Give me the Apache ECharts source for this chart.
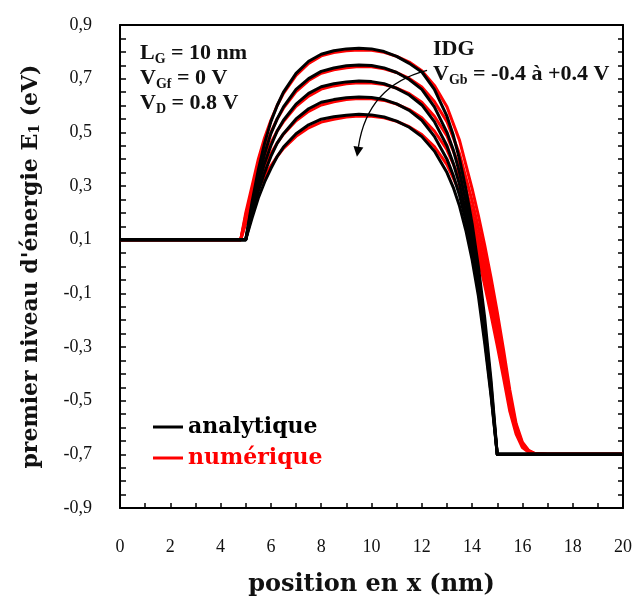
<!DOCTYPE html>
<html>
<head>
<meta charset="utf-8">
<script src="https://cdn.jsdelivr.net/npm/echarts@6/dist/echarts.min.js"></script>
<style>
html,body{margin:0;padding:0;background:#fff;}
#main{width:637px;height:601px;}
</style>
</head>
<body>
<div id="main"></div>
<script>
// ---- data ----
var xBlack = [0, 5, 5.25, 5.5, 5.75, 6, 6.25, 6.5, 7, 7.5, 8, 8.5, 9, 9.5, 10, 10.5, 11, 11.5, 12, 12.5, 13, 13.25, 13.5, 13.75, 14, 14.25, 14.5, 14.75, 15, 20];
var black1 = [0.1, 0.1, 0.24, 0.36, 0.46, 0.54, 0.60, 0.65, 0.72, 0.765, 0.791, 0.804, 0.811, 0.813, 0.811, 0.801, 0.783, 0.757, 0.725, 0.66, 0.56, 0.49, 0.40, 0.29, 0.16, 0.0, -0.19, -0.42, -0.70, -0.70];
var black2 = [0.1, 0.1, 0.225, 0.33, 0.42, 0.495, 0.55, 0.595, 0.66, 0.70, 0.727, 0.740, 0.748, 0.751, 0.749, 0.740, 0.723, 0.697, 0.66, 0.595, 0.50, 0.435, 0.35, 0.245, 0.12, -0.03, -0.22, -0.44, -0.70, -0.70];
var black3 = [0.1, 0.1, 0.21, 0.305, 0.385, 0.45, 0.505, 0.545, 0.605, 0.645, 0.67, 0.681, 0.688, 0.691, 0.689, 0.681, 0.664, 0.639, 0.602, 0.54, 0.45, 0.385, 0.305, 0.205, 0.085, -0.06, -0.245, -0.46, -0.70, -0.70];
var black4 = [0.1, 0.1, 0.195, 0.28, 0.35, 0.41, 0.46, 0.495, 0.55, 0.588, 0.612, 0.622, 0.629, 0.632, 0.630, 0.622, 0.606, 0.582, 0.545, 0.485, 0.40, 0.34, 0.265, 0.17, 0.055, -0.085, -0.265, -0.47, -0.70, -0.70];
var black5 = [0.1, 0.1, 0.18, 0.255, 0.315, 0.365, 0.41, 0.445, 0.495, 0.528, 0.549, 0.558, 0.564, 0.567, 0.565, 0.557, 0.542, 0.519, 0.484, 0.43, 0.35, 0.295, 0.225, 0.135, 0.025, -0.11, -0.285, -0.48, -0.70, -0.70];

var xRed = [0, 4.8, 5, 5.25, 5.5, 5.75, 6, 6.25, 6.5, 7, 7.5, 8, 8.5, 9, 9.5, 10, 10.5, 11, 11.5, 12, 12.5, 13, 13.5, 14, 14.25, 14.5, 14.75, 15, 15.25, 15.5, 15.75, 16, 16.25, 16.5, 17, 20];
var red1 = [0.1, 0.1, 0.2, 0.3, 0.4, 0.48, 0.545, 0.60, 0.645, 0.712, 0.757, 0.785, 0.797, 0.804, 0.807, 0.806, 0.798, 0.783, 0.762, 0.73, 0.675, 0.595, 0.47, 0.29, 0.19, 0.08, -0.04, -0.17, -0.31, -0.46, -0.585, -0.655, -0.685, -0.697, -0.70, -0.70];
var red2 = [0.1, 0.1, 0.19, 0.285, 0.37, 0.44, 0.50, 0.55, 0.59, 0.652, 0.693, 0.72, 0.733, 0.741, 0.745, 0.744, 0.737, 0.723, 0.701, 0.669, 0.615, 0.54, 0.42, 0.245, 0.145, 0.04, -0.075, -0.20, -0.335, -0.48, -0.595, -0.66, -0.687, -0.697, -0.70, -0.70];
var red3 = [0.1, 0.1, 0.18, 0.27, 0.345, 0.405, 0.46, 0.505, 0.54, 0.597, 0.635, 0.661, 0.673, 0.681, 0.685, 0.684, 0.678, 0.665, 0.644, 0.612, 0.56, 0.487, 0.375, 0.205, 0.105, 0.0, -0.11, -0.23, -0.36, -0.50, -0.605, -0.665, -0.689, -0.698, -0.70, -0.70];
var red4 = [0.1, 0.1, 0.17, 0.25, 0.315, 0.37, 0.42, 0.46, 0.493, 0.543, 0.578, 0.602, 0.614, 0.622, 0.626, 0.625, 0.619, 0.605, 0.585, 0.554, 0.505, 0.435, 0.33, 0.165, 0.07, -0.035, -0.145, -0.26, -0.385, -0.52, -0.615, -0.67, -0.69, -0.698, -0.70, -0.70];
var red5 = [0.1, 0.1, 0.16, 0.235, 0.29, 0.335, 0.375, 0.41, 0.44, 0.485, 0.517, 0.538, 0.549, 0.557, 0.561, 0.560, 0.554, 0.541, 0.521, 0.492, 0.447, 0.38, 0.28, 0.125, 0.035, -0.07, -0.18, -0.295, -0.415, -0.54, -0.625, -0.675, -0.692, -0.699, -0.70, -0.70];

var xTickLabels = [0, 2, 4, 6, 8, 10, 12, 14, 16, 18, 20];
var yTickLabels = [-0.9, -0.7, -0.5, -0.3, -0.1, 0.1, 0.3, 0.5, 0.7, 0.9];
var legendNames = ['analytique', 'numérique'];

// ---- chart ----
var BOLD = '"DejaVu Serif", serif';
var ANN = '"Liberation Serif", serif';
var REG = '"Liberation Serif", serif';
var chart = echarts.init(document.getElementById('main'), null, {renderer: 'canvas'});

function zip(xs, ys) { return xs.map(function (x, i) { return [x, ys[i]]; }); }
function fmtY(v) {
  for (var i = 0; i < yTickLabels.length; i++) {
    if (Math.abs(yTickLabels[i] - v) < 1e-6) return yTickLabels[i].toFixed(1).replace('.', ',');
  }
  return '';
}
function fmtX(v) {
  for (var i = 0; i < xTickLabels.length; i++) {
    if (Math.abs(xTickLabels[i] - v) < 1e-6) return String(xTickLabels[i]);
  }
  return '';
}

var series = [];
[red1, red2, red3, red4, red5].forEach(function (d) {
  series.push({name: legendNames[1], type: 'line', data: zip(xRed, d), symbol: 'none', z: 2,
    lineStyle: {color: '#ff0000', width: 3, join: 'round'}, itemStyle: {color: '#ff0000'}, animation: false});
});
[black1, black2, black3, black4, black5].forEach(function (d) {
  series.push({name: legendNames[0], type: 'line', data: zip(xBlack, d), symbol: 'none', z: 3,
    lineStyle: {color: '#000000', width: 3, join: 'round'}, itemStyle: {color: '#000000'}, animation: false});
});

var axisLine = {show: true, onZero: false, lineStyle: {color: '#000', width: 2}};
var option = {
  animation: false,
  backgroundColor: '#fff',
  grid: {left: 120, right: 14, top: 25, bottom: 93, containLabel: false, outerBoundsMode: 'none'},
  legend: {
    left: 153, top: 416, orient: 'vertical', itemWidth: 30, itemHeight: 3, itemGap: 9, padding: 0,
    icon: 'rect',
    data: [
      {name: legendNames[0], textStyle: {color: '#000'}},
      {name: legendNames[1], textStyle: {color: '#ff0000'}}
    ],
    textStyle: {fontFamily: BOLD, fontWeight: 'bold', fontSize: 22, lineHeight: 22}
  },
  xAxis: [{
    type: 'value', min: 0, max: 20, interval: 1, position: 'bottom',
    axisLine: axisLine,
    axisTick: {show: true, inside: true, length: 5, lineStyle: {color: '#000', width: 1.5}},
    splitLine: {show: false},
    axisLabel: {formatter: fmtX, margin: 30, fontFamily: REG, fontSize: 18, color: '#111'},
    name: 'position en x (nm)', nameLocation: 'middle', nameGap: 65,
    nameTextStyle: {fontFamily: BOLD, fontWeight: 'bold', fontSize: 24, color: '#111'}
  }, {
    type: 'value', min: 0, max: 20, interval: 1, position: 'top',
    axisLine: axisLine, axisTick: {show: false}, axisLabel: {show: false}, splitLine: {show: false}
  }],
  yAxis: [{
    type: 'value', min: -0.9, max: 0.9, interval: 0.05, position: 'left',
    axisLine: axisLine,
    axisTick: {show: true, inside: true, length: 6, lineStyle: {color: '#000', width: 1.5}},
    splitLine: {show: false},
    axisLabel: {formatter: fmtY, margin: 28, fontFamily: REG, fontSize: 18, color: '#111'},
    name: 'premier niveau d\'énergie E{sub|1} (eV)', nameLocation: 'middle', nameGap: 78, nameRotate: 90,
    nameTextStyle: {fontFamily: BOLD, fontWeight: 'bold', fontSize: 22, color: '#111',
      rich: {sub: {fontFamily: BOLD, fontWeight: 'bold', fontSize: 14, color: '#111', verticalAlign: 'bottom', lineHeight: 11}}}
  }, {
    type: 'value', min: -0.9, max: 0.9, interval: 0.05, position: 'right',
    axisLine: axisLine,
    axisTick: {show: true, inside: true, length: 5, lineStyle: {color: '#000', width: 1.5}},
    axisLabel: {show: false}, splitLine: {show: false}
  }],
  series: series
};
chart.setOption(option);

// annotations
var sub = {fontFamily: ANN, fontWeight: 'bold', fontSize: 14, fill: '#111', verticalAlign: 'bottom', lineHeight: 10};
function richText(x, y, txt) {
  return {type: 'text', left: x, top: y, z: 10,
    style: {text: txt, fontFamily: ANN, fontWeight: 'bold', fontSize: 22, fill: '#111', lineHeight: 25,
      rich: {sub: sub}}};
}
var p0 = chart.convertToPixel({gridIndex: 0}, [12.21, 0.731]);
var pc = chart.convertToPixel({gridIndex: 0}, [9.84, 0.674]);
var p2 = chart.convertToPixel({gridIndex: 0}, [9.48, 0.446]);
var dx = p2[0] - pc[0], dy = p2[1] - pc[1], dl = Math.sqrt(dx * dx + dy * dy);
dx /= dl; dy /= dl;
var tip = [p2[0] + dx * 10, p2[1] + dy * 10];
var b1 = [p2[0] - dy * 5, p2[1] + dx * 5];
var b2 = [p2[0] + dy * 5, p2[1] - dx * 5];

chart.setOption({
  graphic: [
    richText(140, 41, 'L{sub|G} = 10 nm'),
    richText(140, 66, 'V{sub|Gf} = 0 V'),
    richText(140, 91, 'V{sub|D} = 0.8 V'),
    richText(433, 37, 'IDG'),
    richText(433, 62, 'V{sub|Gb} = -0.4 à +0.4 V'),
    {type: 'bezierCurve', z: 10, shape: {x1: p0[0], y1: p0[1], cpx1: pc[0], cpy1: pc[1], x2: p2[0], y2: p2[1]},
      style: {stroke: '#000', lineWidth: 1.3, fill: null}},
    {type: 'polygon', z: 10, shape: {points: [tip, b1, b2]}, style: {fill: '#000'}}
  ]
});
</script>
</body>
</html>
